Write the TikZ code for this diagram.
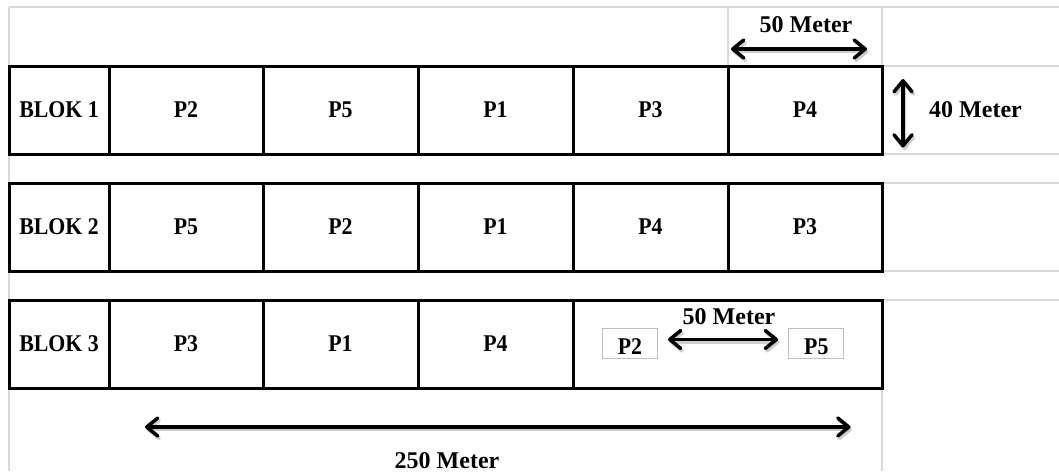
\documentclass[tikz,border=0pt]{standalone}
\usepackage{fontspec}
\setmainfont{Liberation Serif}
\newfontfamily\cellfont[FakeStretch=0.91]{Liberation Serif}
\usetikzlibrary{arrows.meta}
\definecolor{gridgrey}{HTML}{D9D9D9}
\definecolor{boxgrey}{HTML}{BFBFBF}
\tikzset{
  cell/.style={draw=black, line width=3pt, inner sep=0pt, outer sep=0pt,
    minimum height=88pt, font=\cellfont\fontsize{24}{28}\selectfont\bfseries},
  smallbox/.style={draw=boxgrey, line width=1pt, inner sep=0pt, outer sep=0pt,
    minimum width=55pt, minimum height=30pt, text height=22.5pt, text depth=0pt,
    font=\cellfont\fontsize{24}{28}\selectfont\bfseries},
  lbl/.style={anchor=base, inner sep=0pt, font=\fontsize{24}{28}\selectfont\bfseries},
  grid/.style={draw=gridgrey, line width=1.5pt},
  dimarrow/.style={line width=3.5pt, {Straight Barb[length=11pt,width=18pt,round]}-{Straight Barb[length=11pt,width=18pt,round]}},
  dimshadow/.style={dimarrow, draw=black!35, opacity=0.55, transform canvas={xshift=1.5pt,yshift=-2.5pt}}
}
\begin{document}
\begin{tikzpicture}[x=1pt,y=-1pt]
\useasboundingbox (0,0) rectangle (1059,471);
\fill[white] (0,0) rectangle (1059,471);
% light spreadsheet grid
\draw[grid] (9,7) -- (1059,7);
\draw[grid] (9,7) -- (9,471);
\draw[grid] (728,7) -- (728,66);
\draw[grid] (882,7) -- (882,66);
\draw[grid] (882,388) -- (882,471);
\foreach \yy in {66,154,183,271,300} \draw[grid] (882,\yy) -- (1059,\yy);
% block 1
\node[cell, minimum width=100pt] (a0) at (59,110) {BLOK 1};
\node[cell, minimum width=154pt] (a1) at (186,110) {P2};
\node[cell, minimum width=155pt] (a2) at (340.5,110) {P5};
\node[cell, minimum width=155pt] (a3) at (495.5,110) {P1};
\node[cell, minimum width=155pt] (a4) at (650.5,110) {P3};
\node[cell, minimum width=154pt] (a5) at (805,110) {P4};
% block 2
\node[cell, minimum width=100pt] (b0) at (59,227) {BLOK 2};
\node[cell, minimum width=154pt] (b1) at (186,227) {P5};
\node[cell, minimum width=155pt] (b2) at (340.5,227) {P2};
\node[cell, minimum width=155pt] (b3) at (495.5,227) {P1};
\node[cell, minimum width=155pt] (b4) at (650.5,227) {P4};
\node[cell, minimum width=154pt] (b5) at (805,227) {P3};
% block 3
\node[cell, minimum width=100pt] (c0) at (59,344) {BLOK 3};
\node[cell, minimum width=154pt] (c1) at (186,344) {P3};
\node[cell, minimum width=155pt] (c2) at (340.5,344) {P1};
\node[cell, minimum width=155pt] (c3) at (495.5,344) {P4};
\node[cell, minimum width=309pt] (c4) at (727.5,344) {};
\node[smallbox] (sp2) at (630,343.6) {P2};
\node[smallbox] (sp5) at (816.3,343.6) {P5};
% dimension arrows
\coordinate (t1) at (731,49);
\coordinate (t2) at (867,49);
\coordinate (v1) at (903,79);
\coordinate (v2) at (903,147.5);
\coordinate (m1) at (668,339.5);
\coordinate (m2) at (778,339.5);
\coordinate (w1) at (145,427);
\coordinate (w2) at (850.5,427);
\foreach \p/\q in {t1/t2, v1/v2, m1/m2, w1/w2} {
  \draw[dimshadow] (\p) -- (\q);
  \draw[dimarrow] (\p) -- (\q);
}
\node[lbl] (l50a) at (806,32) {50 Meter};
\node[lbl, anchor=base west] (l40) at (929,117.5) {40 Meter};
\node[lbl] (l50b) at (729,324) {50 Meter};
\node[lbl] (l250) at (447,468) {250 Meter};
\end{tikzpicture}
\end{document}
